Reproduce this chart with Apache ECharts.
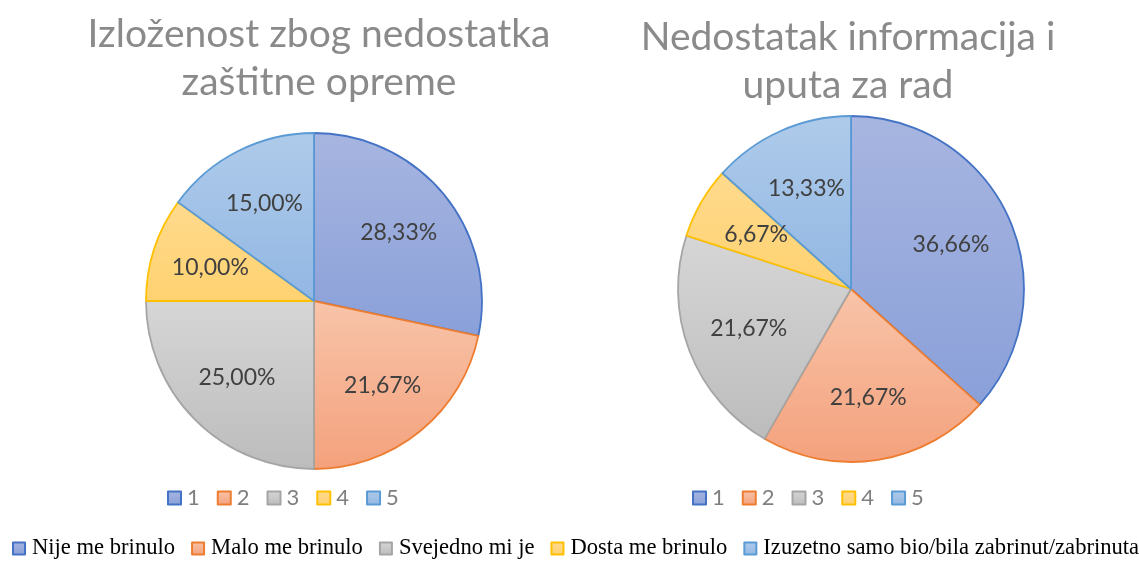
<!DOCTYPE html>
<html>
<head>
<meta charset="utf-8">
<script src="https://cdn.jsdelivr.net/npm/echarts@6/dist/echarts.min.js"></script>
<style>
html,body{margin:0;padding:0;background:#fff;}
#chart{width:1139px;height:561px;}
</style>
</head>
<body>
<div id="chart"></div>
<script>
// ---- data ----
var categories = ['Nije me brinulo', 'Malo me brinulo', 'Svejedno mi je', 'Dosta me brinulo', 'Izuzetno samo bio/bila zabrinut/zabrinuta'];
var shortLabels = ['1', '2', '3', '4', '5'];
var titleLeft = 'Izloženost zbog nedostatka\nzaštitne opreme';
var titleRight = 'Nedostatak informacija i\nuputa za rad';
var valuesLeft = [28.33, 21.67, 25.00, 10.00, 15.00];
var valuesRight = [36.66, 21.67, 21.67, 6.67, 13.33];

// ---- styles ----
var topColors = ['#A7B5E0', '#F8C4A9', '#D6D6D6', '#FFDA8E', '#AFCBEA'];
var bottomColors = ['#8AA0D9', '#F4A17C', '#BCBCBC', '#FFD270', '#92B7E3'];
var borderColors = ['#4472C4', '#ED7D31', '#A5A5A5', '#FFC000', '#5B9BD5'];

function grad(i) {
  return new echarts.graphic.LinearGradient(0, 0, 0, 1, [
    { offset: 0, color: topColors[i] },
    { offset: 1, color: bottomColors[i] }
  ]);
}
function fmt(v) { return v.toFixed(2).replace('.', ',') + '%'; }

function pieData(values) {
  return categories.map(function (c, i) {
    return {
      name: c, value: values[i],
      itemStyle: { color: grad(i), borderColor: borderColors[i], borderWidth: 1.8 }
    };
  });
}
function labelData(values) {
  return categories.map(function (c, i) { return { name: c, value: values[i] }; });
}

var labelStyle = {
  show: true, position: 'inside', color: '#404040',
  fontFamily: 'Lato', fontSize: 23,
  formatter: function (p) { return fmt(p.value); }
};

var chart = echarts.init(document.getElementById('chart'), null, { renderer: 'canvas' });
chart.setOption({
  backgroundColor: '#ffffff',
  animation: false,
  title: [
    { text: titleLeft, left: 319, top: 10, textAlign: 'center', padding: 0,
      textStyle: { fontFamily: 'Lato', fontSize: 39, fontWeight: 'normal', color: '#8A8A8A', lineHeight: 48 } },
    { text: titleRight, left: 848, top: 13, textAlign: 'center', padding: 0,
      textStyle: { fontFamily: 'Lato', fontSize: 39, fontWeight: 'normal', color: '#8A8A8A', lineHeight: 48 } }
  ],
  legend: [
    { data: categories, left: 167, top: 487, padding: 0, icon: 'rect', itemWidth: 13, itemHeight: 13, itemGap: 17,
      formatter: function (n) { return shortLabels[categories.indexOf(n)]; },
      textStyle: { fontFamily: 'Lato', fontSize: 22, color: '#7F7F7F', padding: [0, 0, 0, 1] } },
    { data: categories, left: 692, top: 487, padding: 0, icon: 'rect', itemWidth: 13, itemHeight: 13, itemGap: 17,
      formatter: function (n) { return shortLabels[categories.indexOf(n)]; },
      textStyle: { fontFamily: 'Lato', fontSize: 22, color: '#7F7F7F', padding: [0, 0, 0, 1] } },
    { data: categories, left: 12, top: 537, width: 1500, padding: 0, icon: 'rect', itemWidth: 12, itemHeight: 12, itemGap: 16,
      textStyle: { fontFamily: 'Liberation Serif', fontSize: 22.6, color: '#000000', padding: [0, 0, 0, 2] } }
  ],
  series: [
    { type: 'pie', center: [314, 301], radius: [0, 168], startAngle: 90, clockwise: true,
      label: { show: false }, labelLine: { show: false }, emphasis: { disabled: true },
      data: pieData(valuesLeft) },
    { type: 'pie', center: [851, 289], radius: [0, 173], startAngle: 90, clockwise: true,
      label: { show: false }, labelLine: { show: false }, emphasis: { disabled: true },
      data: pieData(valuesRight) },
    { type: 'pie', center: [314, 301], radius: [44, 168], startAngle: 90, clockwise: true, silent: true,
      itemStyle: { color: 'rgba(0,0,0,0)', borderWidth: 0 }, label: labelStyle, labelLine: { show: false },
      emphasis: { disabled: true }, data: labelData(valuesLeft) },
    { type: 'pie', center: [851, 289], radius: [40, 173], startAngle: 90, clockwise: true, silent: true,
      itemStyle: { color: 'rgba(0,0,0,0)', borderWidth: 0 }, label: labelStyle, labelLine: { show: false },
      emphasis: { disabled: true }, data: labelData(valuesRight) }
  ]
});
</script>
</body>
</html>
